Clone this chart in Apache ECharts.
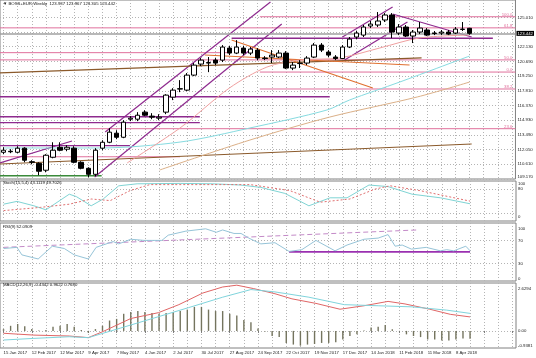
<!DOCTYPE html>
<html><head><meta charset="utf-8">
<script src="https://cdn.jsdelivr.net/npm/echarts@6/dist/echarts.min.js"></script>
<style>html,body{margin:0;padding:0;background:#fff}#c{width:536px;height:358px}</style>
</head><body><div id="c"></div>
<script>
// ---------- texts ----------
const titleText = '\u25BC BOSS+EUR,Weekly  123.937 123.967 123.305 123.442';
const stochText = 'Stoch(15,5,4) 43.1119 49.7026';
const rsiText = 'RSI(9) 52.0909';
const macdText = 'MACD(12,26,9) -0.4342 0.9622 0.7680';

// ---------- x categories / tick labels ----------
const dateLabels = ['15 Jan 2017','12 Feb 2017','12 Mar 2017','9 Apr 2017','7 May 2017','4 Jun 2017','2 Jul 2017','30 Jul 2017','27 Aug 2017','24 Sep 2017','22 Oct 2017','19 Nov 2017','17 Dec 2017','14 Jan 2018','11 Feb 2018','11 Mar 2018','8 Apr 2018'];
const barsPerLabel = 4;
const slotCount = 73; // weekly slots incl. right chart shift
const weekSlots = Array.from({length: slotCount}, (_, i) => String(i));
const vGridWeeks = [0,2,4,6,8,10,12,14,16,18,20,22,24,26,28,30,32,34,36,38,40,42,44,46,48,50,52,54,56,58,60,62,64,66,68,70,72];

// ---------- price axis ----------
const priceTicks = [109.17,110.61,112.05,113.49,114.93,116.37,117.81,119.25,120.69,122.13,123.57,125.01];
const priceLabels = [109.17,110.61,112.05,113.49,114.93,116.37,117.81,119.25,120.69,122.13,125.01];
const lastClose = 123.442;

// ---------- weekly candles ----------
const openP  = [111.79,111.89,111.79,112.19,110.86,110.71,110.03,111.30,112.28,112.09,112.19,110.81,110.22,109.63,112.19,112.77,113.66,113.26,115.03,115.03,115.72,115.33,115.13,115.72,117.19,117.98,117.88,119.35,120.43,120.53,120.82,120.82,122.00,121.51,122.00,121.51,121.80,121.02,121.12,121.12,121.51,120.04,120.48,120.53,121.12,122.29,121.61,121.12,120.97,122.10,123.08,123.27,124.16,124.26,124.75,125.24,123.47,124.06,123.18,123.57,123.77,123.47,123.47,123.57,123.47,123.82,123.937];
const highP  = [112.28,112.09,112.38,112.28,111.01,110.81,111.60,112.77,112.77,112.48,112.38,110.91,110.32,112.19,112.97,114.15,113.95,114.93,115.33,115.72,115.91,115.62,115.52,117.48,118.07,118.86,119.55,120.53,121.02,121.12,121.02,122.29,122.20,122.78,122.20,122.10,122.00,121.21,121.80,121.80,121.70,120.63,120.82,121.21,122.49,122.49,121.80,121.31,122.29,123.08,123.67,124.26,124.65,125.53,125.43,125.43,124.35,124.26,123.77,124.55,123.96,123.67,123.77,123.77,124.06,124.55,123.967];
const lowP   = [111.60,111.70,111.70,110.81,110.61,109.54,109.83,111.20,111.89,111.89,110.71,110.12,109.34,109.44,111.99,112.68,113.07,113.17,114.84,114.84,115.33,115.03,114.93,115.52,116.90,117.68,117.78,119.25,120.23,119.64,120.33,120.63,121.31,121.41,121.31,121.31,120.82,120.82,120.53,121.02,119.94,119.84,120.04,120.33,121.02,121.61,121.12,120.82,120.92,122.00,122.88,123.08,123.96,124.06,124.55,122.98,123.27,123.08,122.49,123.37,123.18,123.27,123.27,123.27,123.37,123.67,123.305];
const closeP = [111.99,111.84,112.19,111.01,110.81,109.93,111.50,111.99,111.99,112.28,110.81,110.22,109.63,111.99,112.77,113.76,113.26,114.74,115.13,115.42,115.42,115.23,115.23,117.39,117.88,118.02,119.35,120.33,120.82,120.58,120.53,122.10,121.51,122.10,121.51,121.90,121.02,120.97,121.31,121.51,120.04,120.33,120.53,121.02,122.29,121.80,121.31,120.97,122.10,122.88,123.47,124.06,124.35,124.65,125.24,123.57,124.06,123.18,123.57,123.96,123.27,123.42,123.57,123.37,123.86,123.86,123.442];

// ---------- moving averages on price: [week, price] ----------
const maCyan = [[0,112.21],[13.6,112.21],[25.0,112.79],[34.9,114.17],[45.8,115.93],[49.0,116.91],[56.1,118.67],[66,121.22]];
const maTan  = [[22.1,110.05],[34.9,112.99],[46.2,115.24],[58.6,117.21],[66,118.67]];
const maPink = [[17.5,110.74],[25.0,114.17],[32.0,118.09],[37.3,120.14],[41.9,120.83],[47.6,121.03],[53.3,122.01],[58.9,122.99],[66,123.28]];

// ---------- drawn objects: levels [w0, w1, price, label] and trendlines [w0, p0, w1, p1] ----------
const fibLevels = [[36.3,72.5,125.07,'100.0'],[-0.5,72.5,123.98,'61.8'],[-0.5,72.5,120.84,'50.0'],[36.3,72.5,119.65,'0.0'],[36.3,72.5,117.99,'38.2'],[-0.5,72.5,114.10,'23.6']];
const purpleLevels = [[32.3,69.3,122.96],[-0.5,46.2,117.23],[-0.5,27.8,115.27],[-0.5,27.8,114.69],[-0.5,17.9,112.45]];
const pinkLevels = [[-0.5,25.0,111.35],[-0.5,32.0,121.55]];
const greenLevels = [[-0.5,13.9,109.49]];
const purpleTrends = [[14.4,113.78,37.8,126.51],[12.9,109.37,39.4,124.36],[-0.5,110.74,9.7,112.89],[48.0,123.08,55.1,126.02],[48.3,120.83,57.2,124.55],[55.1,125.34,66.3,123.08]];
const brownTrends = [[-0.5,110.64,66.3,112.60],[-0.5,119.56,59.2,121.03]];
const orangeTrends = [[32.3,122.79,52.3,118.09],[28.5,121.32,57.5,120.34]];

// ---------- Stochastic ----------
const stochMain = [[0,42],[1.9,49],[4.3,38],[6.0,28],[9.3,67],[10.3,61],[12.4,38],[14.1,55],[16.3,88],[18.9,93],[25.0,94],[29.6,93],[33.5,90],[36.4,84],[39.8,69],[43.2,38],[46.2,58],[48.6,58],[51.7,90],[54.4,86],[57.8,67],[61.8,58],[66,43.11]];
const stochSignal = [[0,26],[5.2,34],[9.3,42],[12.4,55],[15.1,51],[17.9,76],[20.7,91],[34.9,91],[40.5,76],[44.8,47],[49.0,55],[52.6,80],[54.7,88],[58.9,76],[66,49.70]];
const stochAxisLabels = [0,20,80,100];
const stochLevels = [20,80];

// ---------- RSI ----------
const rsiLine = [[0,56],[1.9,58],[2.6,45],[4.9,38],[6.9,60],[8.6,56],[10.0,45],[12.0,38],[13.1,58],[15.5,68],[16.3,64],[18.0,72],[19.9,70],[22.4,70],[23.3,79],[25.8,86],[28.6,90],[30.1,84],[31.0,88],[32.6,82],[33.6,82],[34.7,74],[36.4,64],[38.4,66],[40.4,51],[42.2,54],[44.2,70],[46.9,52],[48.6,62],[51.0,72],[53.0,74],[54.4,80],[55.4,60],[56.4,62],[57.7,55],[59.8,58],[61.8,52],[62.7,54],[63.7,52],[65.4,60],[66,52.09]];
const rsiTrend = [[0,58],[58.5,88]];
const rsiSupport = [[40.4,50.3],[66,50.3]];
const rsiAxisLabels = [0,30,70,100];
const rsiLevels = [30,70];

// ---------- MACD ----------
const macdHist = [0.10,0.28,0.38,0.25,0.10,0.02,0.05,0.23,0.28,0.38,0.23,0.05,-0.10,0.10,0.28,0.57,0.66,0.94,1.04,1.09,1.04,0.98,0.94,0.98,1.04,1.09,1.17,1.32,1.32,1.17,1.09,1.09,0.94,0.85,0.60,0.47,0.13,-0.03,-0.28,-0.34,-0.66,-0.75,-0.81,-0.75,-0.72,-0.66,-0.66,-0.62,-0.47,-0.28,-0.19,0.02,0.19,0.23,0.32,0.09,-0.02,-0.19,-0.28,-0.34,-0.47,-0.47,-0.53,-0.53,-0.47,-0.41,-0.4342];
const macdRed = [[0,-0.13],[4.3,-0.23],[9.3,-0.28],[12.0,-0.37],[14.1,-0.03],[18.0,0.68],[21.9,1.00],[24.8,1.44],[28.2,2.08],[31.0,2.41],[33.0,2.51],[35.4,2.32],[38.4,2.04],[40.8,1.76],[44.2,1.51],[47.6,1.19],[51.0,1.38],[54.4,1.62],[56.8,1.48],[60.3,1.19],[63.2,0.91],[66,0.768]];
const macdCyan = [[0,-0.50],[4.3,-0.41],[9.3,-0.32],[12.0,-0.37],[16.5,0.15],[21.4,0.72],[26.2,1.28],[31.0,1.85],[35.0,2.27],[38.4,2.14],[43.2,1.85],[48.2,1.44],[53.0,1.38],[57.8,1.32],[62.7,1.14],[66,0.9622]];
const macdMax = 2.6294, macdMin = -0.9381;
const macdAxisLabels = [-0.9381, 0, 2.6294];

// ================= build =================
const FONT = 'Liberation Sans';
const FS = 4.3;
const gridCol = '#b4b4b4';
const candleData = openP.map((o, i) => [o, closeP[i], lowP[i], highP[i]]);

function valueX(gridIdx) {
  return {type:'value', gridIndex:gridIdx, min:-0.5, max:72.5, show:true,
    axisLine:{show:false}, axisLabel:{show:false},
    axisTick:{show:false, customValues: vGridWeeks},
    splitLine:{show:true, lineStyle:{color:gridCol, type:[1,2], width:1}}};
}
function catX(gridIdx, withLabels) {
  return {type:'category', gridIndex:gridIdx, data:weekSlots, boundaryGap:true,
    axisLine:{show:false},
    axisTick:{show:withLabels, interval:barsPerLabel-1, alignWithLabel:true, length:2, lineStyle:{color:'#777'}},
    splitLine:{show:false},
    axisLabel:{show:withLabels, interval:barsPerLabel-1, align:'left', margin:2.5, fontSize:FS, color:'#222', fontFamily:FONT,
      formatter:(v, i) => dateLabels[i / barsPerLabel] || ''}};
}
const richShift = {
  dn:{padding:[6,0,0,0], fontSize:FS, color:'#222', fontFamily:FONT},
  dn2:{padding:[12,0,0,0], fontSize:FS, color:'#222', fontFamily:FONT},
  up:{padding:[0,0,4,0], fontSize:FS, color:'#222', fontFamily:FONT},
  up2:{padding:[0,0,9,0], fontSize:FS, color:'#222', fontFamily:FONT}
};
function yAx(gridIdx, min, max, labelVals, tickVals, fmt) {
  return {type:'value', gridIndex:gridIdx, position:'right', min:min, max:max, scale:true,
    axisLine:{show:false},
    axisTick:{show:false, customValues: tickVals},
    splitLine:{show:tickVals.length>0, lineStyle:{color:gridCol, type:[1,2], width:1}},
    axisLabel:{show:true, customValues: labelVals, showMinLabel:true, showMaxLabel:true, hideOverlap:false,
      margin:2, fontSize:FS, color:'#222', fontFamily:FONT, formatter:fmt, rich:richShift}};
}

const series = [];
function seg(xi, yi, pts, color, width, type, extra) {
  series.push(Object.assign({type:'line', xAxisIndex:xi, yAxisIndex:yi, data:pts, symbol:'none', silent:true,
    lineStyle:{color:color, width:width, type:type||'solid'}, z:3}, extra||{}));
}

// candles
series.push({type:'candlestick', xAxisIndex:0, yAxisIndex:0, data:candleData, barWidth:5, z:5,
  itemStyle:{color:'#ffffff', color0:'#000000', borderColor:'#000000', borderColor0:'#000000', borderWidth:1},
  markLine:{symbol:['none','none'], silent:true, animation:false, data:[{yAxis:lastClose}],
    lineStyle:{color:'#a0a0a0', width:1.5, type:'solid'},
    label:{show:true, position:'end', distance:1, formatter:lastClose.toFixed(3), backgroundColor:'#000', color:'#fff', fontSize:FS, fontFamily:FONT, padding:[1,1,0,1]}}});

// drawn objects
fibLevels.forEach(f => {
  series.push({type:'line', xAxisIndex:1, yAxisIndex:0, silent:true, z:3, symbol:'circle', symbolSize:0, showSymbol:true,
    lineStyle:{color:'#e0709c', width:1},
    data:[[f[0], f[2]], {value:[f[1], f[2]], label:{show:true, position:'top', distance:0, align:'right', offset:[-3,0], formatter:f[3], fontSize:FS, color:'#e0709c', fontFamily:FONT}}]});
});
purpleLevels.forEach(l => seg(1, 0, [[l[0], l[2]], [l[1], l[2]]], '#8e2a8e', 1.3));
pinkLevels.forEach(l => seg(1, 0, [[l[0], l[2]], [l[1], l[2]]], '#e0709c', 1));
greenLevels.forEach(l => seg(1, 0, [[l[0], l[2]], [l[1], l[2]]], '#3a8a3a', 1.3));
purpleTrends.forEach(t => seg(1, 0, [[t[0], t[1]], [t[2], t[3]]], '#8e2a8e', 1.2));
brownTrends.forEach(t => seg(1, 0, [[t[0], t[1]], [t[2], t[3]]], '#8b5a2b', 1.2));
orangeTrends.forEach(t => seg(1, 0, [[t[0], t[1]], [t[2], t[3]]], '#e07030', 1.2));
seg(1, 0, maCyan, '#86dbe0', 1, 'solid', {smooth:0.3});
seg(1, 0, maTan, '#dbb088', 1, 'solid', {smooth:0.3});
seg(1, 0, maPink, '#f0a0a0', 1, 'solid', {smooth:0.3});

// stochastic
seg(2, 1, stochMain, '#7fd4d4', 1);
seg(2, 1, stochSignal, '#e07070', 1, [2,2]);
// rsi
seg(3, 2, rsiTrend, '#c48ac8', 1, [5,3]);
seg(3, 2, rsiSupport, '#9a30b0', 1.6);
seg(3, 2, rsiLine, '#96c4d8', 1);
// macd
series.push({type:'bar', xAxisIndex:4, yAxisIndex:3, data:macdHist, barWidth:1.4, silent:true, itemStyle:{color:'#74745e'}});
seg(5, 3, macdRed, '#e06666', 1);
seg(5, 3, macdCyan, '#80d4dc', 1);

const gridBorder = {show:true, borderColor:'#808080', borderWidth:1, backgroundColor:'#fff'};
const option = {
  animation:false,
  backgroundColor:'#fff',
  textStyle:{fontFamily:FONT},
  title:[
    {text:titleText, left:3, top:2, padding:0, textStyle:{fontSize:FS, fontWeight:'normal', color:'#111', fontFamily:FONT}},
    {text:stochText, left:3, top:181, padding:0, textStyle:{fontSize:FS, fontWeight:'normal', color:'#111', fontFamily:FONT}},
    {text:rsiText, left:3, top:225, padding:0, textStyle:{fontSize:FS, fontWeight:'normal', color:'#111', fontFamily:FONT}},
    {text:macdText, left:3, top:283, padding:0, textStyle:{fontSize:FS, fontWeight:'normal', color:'#111', fontFamily:FONT}}
  ],
  grid:[
    Object.assign({left:0, right:20, top:0, height:179}, gridBorder),
    Object.assign({left:0, right:20, top:181, height:40}, gridBorder),
    Object.assign({left:0, right:20, top:223, height:58}, gridBorder),
    Object.assign({left:0, right:20, top:283, height:65}, gridBorder)
  ],
  xAxis:[catX(0,false), valueX(0), valueX(1), valueX(2), catX(3,true), valueX(3)],
  yAxis:[
    yAx(0, 109.17, 126.71, priceLabels, priceTicks, v => Math.abs(v-109.17)<1e-6 ? '{up|109.170}' : v.toFixed(3)),
    yAx(1, 0, 100, stochAxisLabels, stochLevels, v => v===100 ? '{dn|100}' : v===0 ? '{up2|0}' : String(v)),
    yAx(2, 0, 100, rsiAxisLabels, rsiLevels, v => v===100 ? '{dn2|100}' : v===0 ? '{up|0}' : String(v)),
    yAx(3, macdMin, macdMax, macdAxisLabels, [0], v => Math.abs(v-macdMax)<1e-6 ? '{dn2|2.6294}' : Math.abs(v-macdMin)<1e-6 ? '{up|-0.9381}' : v.toFixed(2))
  ],
  series:series
};
const chart = echarts.init(document.getElementById('c'), null, {renderer:'canvas'});
chart.setOption(option);
</script></body></html>
